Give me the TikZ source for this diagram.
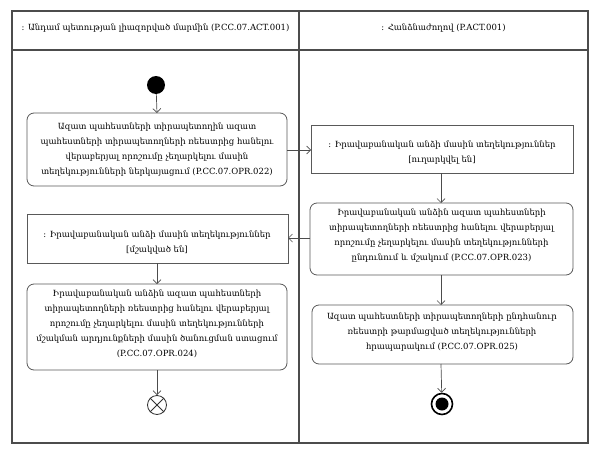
\documentclass[tikz,border=0pt]{standalone}
\usepackage{fontspec}
\setmainfont{DejaVu Serif}
\usetikzlibrary{arrows.meta}
\begin{document}
\begin{tikzpicture}[x=1pt,y=-1pt,
  frame/.style={draw=gray!60!black,line width=1.4pt},
  actbox/.style={draw=gray!70!black,line width=0.8pt,rounded corners=7pt,fill=white},
  objbox/.style={draw=gray!70!black,line width=0.8pt,fill=white},
  txt/.style={align=center,font=\fontsize{8.5}{15}\selectfont,inner sep=0pt},
  flow/.style={draw=gray!60!black,line width=0.7pt,-{Straight Barb[length=4pt,width=8pt]}}]
\useasboundingbox (0,0) rectangle (597,455);
% swimlanes
\draw[frame] (12,11) rectangle (588,443);
\draw[frame] (12,50) -- (588,50);
\draw[frame] (299,11) -- (299,443);
\node[txt] (h1) at (155.5,28) {: Անդամ պետության լիազորված մարմին (P.CC.07.ACT.001)};
\node[txt] (h2) at (443.5,28) {: Հանձնաժողով (P.ACT.001)};
% start
\node[circle,fill=black,minimum size=18pt,inner sep=0pt] (start) at (156,85) {};
% box1
\path[actbox] (27,113) rectangle (287,186);
\coordinate (b1n) at (157,113);
\coordinate (b1e) at (287,150);
\node[txt] (t1) at (157,149.5) {Ազատ պահեստների տիրապետողին ազատ\\պահեստների տիրապետողների ռեեստրից հանելու\\վերաբերյալ որոշումը չեղարկելու մասին\\տեղեկությունների ներկայացում (P.CC.07.OPR.022)};
% box2
\path[objbox] (311,125) rectangle (573,173);
\coordinate (b2w) at (311,150);
\coordinate (b2s) at (441,173);
\node[txt] (t2) at (442,153) {: Իրավաբանական անձի մասին տեղեկություններ\\{}[ուղարկվել են]};
% box3
\path[actbox] (310,203) rectangle (573,275);
\coordinate (b3n) at (441,203);
\coordinate (b3w) at (310,238);
\coordinate (b3s) at (441,275);
\node[txt] (t3) at (441.5,236) {Իրավաբանական անձին ազատ պահեստների\\տիրապետողների ռեեստրից հանելու վերաբերյալ\\որոշումը չեղարկելու մասին տեղեկությունների\\ընդունում և մշակում (P.CC.07.OPR.023)};
% box4
\path[objbox] (27,214) rectangle (288,263);
\coordinate (b4e) at (288,238);
\coordinate (b4s) at (157,263);
\node[txt] (t4) at (157,242.5) {: Իրավաբանական անձի մասին տեղեկություններ\\{}[մշակված են]};
% box5
\path[actbox] (27,284) rectangle (287,370);
\coordinate (b5n) at (157,284);
\coordinate (b5s) at (157,370);
\node[txt] (t5) at (157,324) {Իրավաբանական անձին ազատ պահեստների\\տիրապետողների ռեեստրից հանելու վերաբերյալ\\որոշումը չեղարկելու մասին տեղեկությունների\\մշակման արդյունքների մասին ծանուցման ստացում\\(P.CC.07.OPR.024)};
% box6
\path[actbox] (312,305) rectangle (573,364);
\coordinate (b6n) at (441,305);
\coordinate (b6s) at (441,364);
\node[txt] (t6) at (442,332) {Ազատ պահեստների տիրապետողների ընդհանուր\\ռեեստրի թարմացված տեղեկությունների\\հրապարակում (P.CC.07.OPR.025)};
% flow final
\node[circle,draw=gray!40!black,line width=0.8pt,minimum size=19pt,inner sep=0pt,fill=white] (ff) at (157,405) {};
\draw[gray!40!black,line width=0.8pt] (ff.north west) -- (ff.south east) (ff.north east) -- (ff.south west);
% activity final
\node[circle,draw=black,line width=1.6pt,minimum size=21pt,inner sep=0pt,fill=white] (af) at (442,404) {};
\node[circle,fill=black,minimum size=13pt,inner sep=0pt] (afi) at (442,404) {};
% connectors
\draw[flow] (start) -- (b1n);
\draw[flow] (b1e) -- (b2w);
\draw[flow] (b2s) -- (b3n);
\draw[flow] (b3w) -- (b4e);
\draw[flow] (b4s) -- (b5n);
\draw[flow] (b5s) -- (ff);
\draw[flow] (b3s) -- (b6n);
\draw[flow] (b6s) -- (af);
\end{tikzpicture}
\end{document}
